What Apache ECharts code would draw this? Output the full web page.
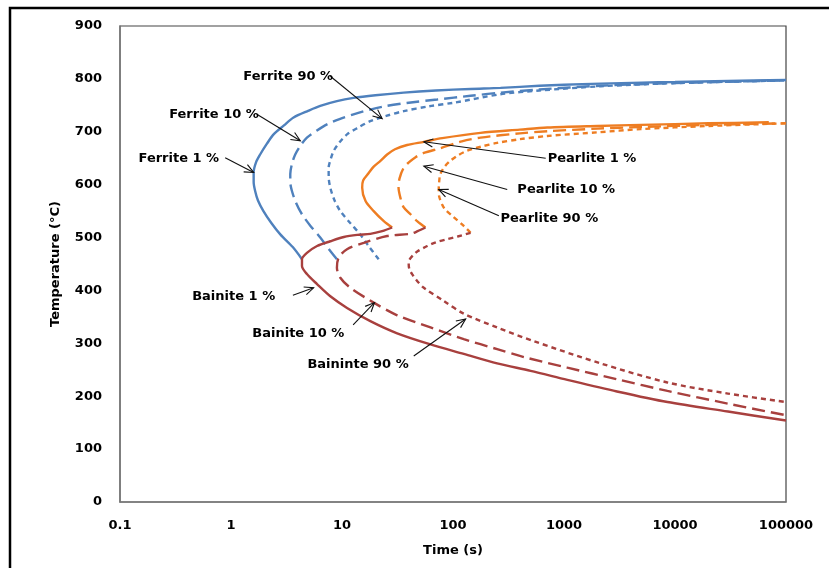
<!DOCTYPE html>
<html>
<head>
<meta charset="utf-8">
<script src="https://cdn.jsdelivr.net/npm/echarts@6/dist/echarts.min.js"></script>
<style>
  html, body { margin: 0; padding: 0; background: #fff; }
  #chart { width: 829px; height: 568px; }
</style>
</head>
<body>
<div id="chart"></div>
<script>
// Time axis tick labels (log scale) and temperature range
const timeTicks = ['0.1', '1', '10', '100', '1000', '10000', '100000'];
const tempTicks = ['0', '100', '200', '300', '400', '500', '600', '700', '800', '900'];

// TTT curves: [time (s), temperature (°C)]
const ferrite1 = [[4.36,459],[3.6,482],[2.78,506],[2.3,528],[1.96,550],[1.75,570],[1.65,588],[1.6,605],[1.6,623],[1.68,642],[1.83,657],[2.1,677],[2.42,695],[3.0,712],[3.66,727],[5,740],[6.37,749],[9,758],[12.7,764],[20,769],[36,774],[70,778],[144,781],[268,783],[600,787],[1000,789],[2143,791],[5000,793],[10000,794],[30000,796],[100000,798]];
const ferrite10 = [[9.0,459],[7.5,480],[6.37,500],[5.2,522],[4.36,544],[3.85,566],[3.54,588],[3.42,605],[3.42,620],[3.55,640],[3.79,657],[4.2,673],[4.83,689],[5.9,702],[7.33,714],[9.5,724],[12.7,733],[18,742],[25.5,749],[40,755],[72,761],[144,768],[268,774],[600,780],[2143,787],[10000,792],[100000,797]];
const ferrite90 = [[21.4,459],[17.5,483],[14.6,506],[11.8,528],[9.66,550],[8.5,572],[7.85,594],[7.6,612],[7.58,632],[7.9,648],[8.42,664],[9.5,680],[11.1,695],[14,708],[18,720],[25,730],[36,739],[60,748],[102,755],[268,771],[600,778],[2143,786],[10000,792],[100000,797]];

const pearlite1 = [[28.3,519],[23.8,531],[19.3,550],[16.3,569],[15.2,594],[15.5,608],[17.4,622],[19.3,634],[22.2,645],[25.5,657],[30,667],[38.6,675],[54.6,681],[80,688],[177,698],[400,704],[708,708],[2000,711],[4920,713],[20000,716],[70000,718]];
const pearlite10 = [[56.5,519],[47.5,531],[41.4,544],[36,557],[33.6,575],[32.3,595],[33,612],[36,632],[40,642],[46,652],[54.6,660],[77,669],[120,682],[177,689],[400,697],[708,701],[2000,706],[4920,709],[20000,713],[100000,716]];
const pearlite90 = [[144,509],[125,522],[98.4,541],[85,553],[79.6,563],[75,578],[74.4,591],[75,605],[76.9,620],[84,634],[94.4,645],[110,655],[134,664],[180,672],[250,679],[400,686],[708,692],[2000,699],[4920,705],[20000,711],[100000,716]];

const bainite1 = [[28.3,519],[23,512],[18,507],[13.7,505],[10.4,501],[7.85,493],[5.96,484],[4.83,471],[4.36,459],[4.36,446],[4.83,431],[5.96,412],[7.85,389],[11.1,367],[18,342],[31.4,319],[62.7,298],[125,280],[250,262],[500,248],[1072,231],[3000,209],[8550,189],[30000,171],[100000,154]];
const bainite10 = [[56.5,519],[48,512],[41.4,507],[25.5,503],[15.7,490],[11.1,478],[9.33,462],[9.0,443],[9.66,424],[11.9,405],[19.3,377],[31.4,353],[62.7,330],[125,308],[250,289],[436,274],[1072,254],[3000,232],[8550,210],[30000,186],[100000,164]];
const bainite90 = [[144,509],[110,502],[88.5,497],[70,491],[58.6,484],[48,474],[44.3,468],[40.5,458],[39.9,449],[40.5,440],[42.8,431],[47.5,418],[54.6,405],[82.6,380],[125,356],[250,330],[536,304],[2143,262],[8550,226],[30000,205],[100000,189]];

// Callouts: label text, where the text sits, arrow tail and arrow head (data coords)
const callouts = [
  { label: 'Ferrite 90 %',   align: 'right', text: [8.3, 805],  from: [7.85, 805], to: [23, 725] },
  { label: 'Ferrite 10 %',   align: 'right', text: [1.78, 733], from: [1.71, 733], to: [4.21, 683] },
  { label: 'Ferrite 1 %',    align: 'right', text: [0.782, 649], from: [0.886, 651], to: [1.6, 623] },
  { label: 'Pearlite 1 %',   align: 'left',  text: [713, 649],  from: [684, 650],  to: [54.6, 681] },
  { label: 'Pearlite 10 %',  align: 'left',  text: [380, 590],  from: [308, 591],  to: [54.6, 635] },
  { label: 'Pearlite 90 %',  align: 'left',  text: [268, 535],  from: [259, 541],  to: [74.4, 591] },
  { label: 'Bainite 1 %',    align: 'right', text: [2.5, 388],  from: [3.61, 391], to: [5.55, 405] },
  { label: 'Bainite 10 %',   align: 'right', text: [10.5, 318], from: [12.6, 335], to: [19.6, 377] },
  { label: 'Baininte 90 %',  align: 'right', text: [39.9, 259], from: [44.3, 276], to: [130, 346] }
];

const BLUE = '#4F81BD';
const ORANGE = '#EE7D22';
const RED = '#A8403E';
const FONT = '"DejaVu Sans", sans-serif';
const LONG_DASH = [13, 6];
const SHORT_DASH = [5, 4];

function curve(name, data, color, dash) {
  return {
    name: name,
    type: 'line',
    data: data,
    showSymbol: false,
    smooth: 0.3,
    lineStyle: { color: color, width: 2.4, type: dash || 'solid', cap: 'butt' },
    z: 3
  };
}

function tickLabel(v) {
  const s = String(+Number(v).toPrecision(6));
  const hit = timeTicks.find(t => Math.abs(Number(t) - v) / Number(t) < 1e-6);
  return hit || s;
}

const chart = echarts.init(document.getElementById('chart'), null, { renderer: 'canvas' });

const option = {
  animation: false,
  backgroundColor: '#fff',
  textStyle: { fontFamily: FONT },
  grid: { left: 120, top: 26, right: 43, bottom: 66, show: true, borderColor: '#444', borderWidth: 1.2 },
  graphic: [
    {
      type: 'rect',
      shape: { x: 10, y: 8, width: 840, height: 580 },
      style: { fill: null, stroke: '#000', lineWidth: 2.5 },
      silent: true,
      z: 0
    }
  ],
  xAxis: {
    type: 'log',
    logBase: 10,
    min: Number(timeTicks[0]),
    max: Number(timeTicks[timeTicks.length - 1]),
    name: 'Time (s)',
    nameLocation: 'middle',
    nameGap: 42,
    nameTextStyle: { color: '#000', fontWeight: 'bold', fontSize: 13, fontFamily: FONT },
    axisLine: { show: true, lineStyle: { color: '#7a7a7a', width: 1.5 } },
    axisTick: { show: false },
    splitLine: { show: false },
    minorTick: { show: false },
    axisLabel: {
      color: '#000', fontWeight: 'bold', fontSize: 13, fontFamily: FONT, margin: 17,
      formatter: tickLabel
    }
  },
  yAxis: {
    type: 'value',
    min: Number(tempTicks[0]),
    max: Number(tempTicks[tempTicks.length - 1]),
    interval: 100,
    name: 'Temperature (°C)',
    nameLocation: 'middle',
    nameGap: 58,
    nameTextStyle: { color: '#000', fontWeight: 'bold', fontSize: 13, fontFamily: FONT },
    axisLine: { show: true, lineStyle: { color: '#7a7a7a', width: 1.5 } },
    axisTick: { show: false },
    splitLine: { show: false },
    axisLabel: {
      color: '#000', fontWeight: 'bold', fontSize: 13, fontFamily: FONT, margin: 18,
      formatter: v => tempTicks.find(t => Number(t) === v) || String(v)
    }
  },
  series: [
    curve('Ferrite 1 %', ferrite1, BLUE),
    curve('Ferrite 10 %', ferrite10, BLUE, LONG_DASH),
    curve('Ferrite 90 %', ferrite90, BLUE, SHORT_DASH),
    curve('Pearlite 1 %', pearlite1, ORANGE),
    curve('Pearlite 10 %', pearlite10, ORANGE, LONG_DASH),
    curve('Pearlite 90 %', pearlite90, ORANGE, SHORT_DASH),
    curve('Bainite 1 %', bainite1, RED),
    curve('Bainite 10 %', bainite10, RED, LONG_DASH),
    curve('Bainite 90 %', bainite90, RED, SHORT_DASH),
    {
      name: 'callouts',
      type: 'custom',
      coordinateSystem: 'cartesian2d',
      data: callouts.map(c => [c.to[0], c.to[1]]),
      encode: { x: 0, y: 1 },
      clip: false,
      z: 10,
      renderItem: function (params, api) {
        const c = callouts[params.dataIndex];
        const p0 = api.coord(c.from);
        const p1 = api.coord(c.to);
        const pt = api.coord(c.text);
        const ang = Math.atan2(p1[1] - p0[1], p1[0] - p0[0]);
        const L = 10, spread = 0.42;
        const h1 = [p1[0] - L * Math.cos(ang - spread), p1[1] - L * Math.sin(ang - spread)];
        const h2 = [p1[0] - L * Math.cos(ang + spread), p1[1] - L * Math.sin(ang + spread)];
        return {
          type: 'group',
          children: [
            { type: 'line', shape: { x1: p0[0], y1: p0[1], x2: p1[0], y2: p1[1] },
              style: { stroke: '#111', lineWidth: 1.1 } },
            { type: 'polyline', shape: { points: [h1, p1, h2] },
              style: { stroke: '#111', lineWidth: 1.1, fill: null } },
            { type: 'text', x: pt[0], y: pt[1],
              style: { text: c.label, align: c.align, verticalAlign: 'middle',
                       font: 'bold 13px ' + FONT, fill: '#000' } }
          ]
        };
      }
    }
  ]
};

chart.setOption(option);
</script>
</body>
</html>
